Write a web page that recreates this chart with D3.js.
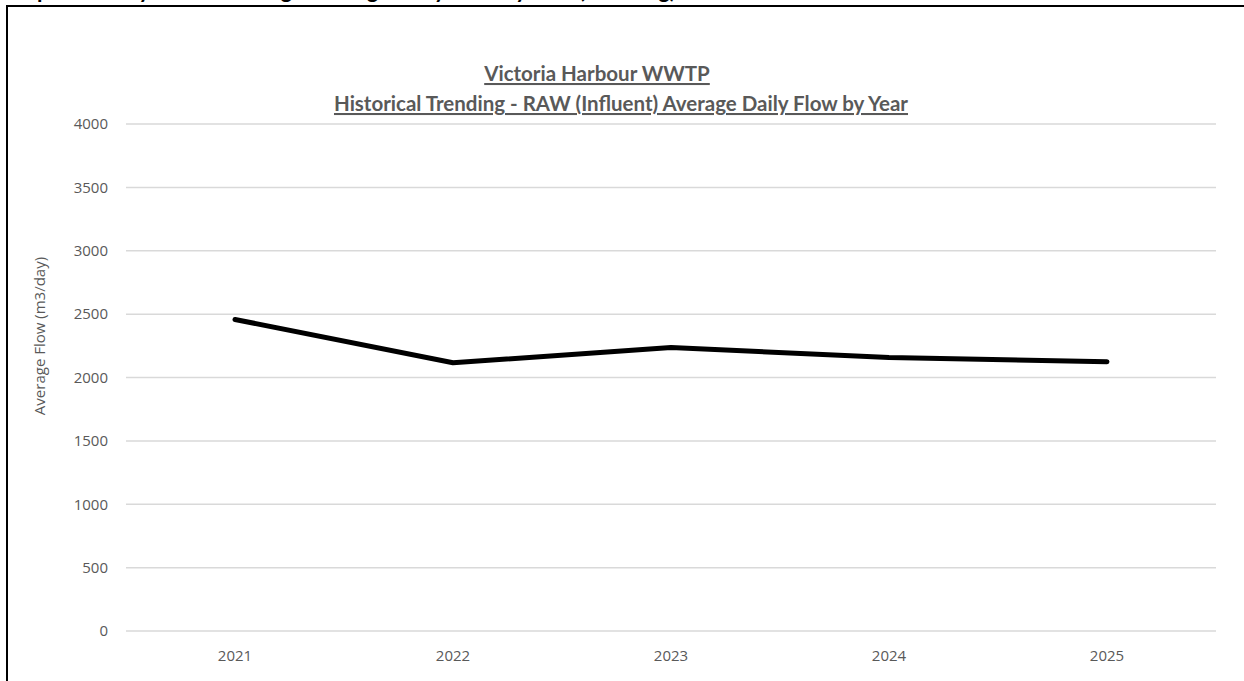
<!DOCTYPE html>
<meta charset="utf-8">
<style>
body { margin: 0; background: #fff; }
text { font-family: "Open Sans", Lato, sans-serif; }
</style>
<body>
<script src="https://cdnjs.cloudflare.com/ajax/libs/d3/7.8.5/d3.min.js"></script>
<script>
var w = 1244, h = 681;

var years = ["2021", "2022", "2023", "2024", "2025"];
var avgFlow = [2458, 2116, 2237, 2158, 2124];
var yTicks = [0, 500, 1000, 1500, 2000, 2500, 3000, 3500, 4000];
var titleLines = ["Victoria Harbour WWTP", "Historical Trending - RAW (Influent) Average Daily Flow by Year"];

var plotLeft = 126, plotRight = 1216, plotTop = 124, plotBottom = 631;

var svg = d3.select("body").append("svg")
	.attr("width", w)
	.attr("height", h);

// heading of the page above the chart, clipped by the picture edge
svg.append("text")
	.attr("x", 2)
	.attr("y", -2)
	.style("font-family", "Lato, sans-serif")
	.style("font-weight", "bold")
	.style("font-size", "22px")
	.attr("fill", "#000")
	.text("Graph 1: Yearly Flow Trending - Average Daily Flow by Year (Trending)");

// chart frame
svg.append("path")
	.attr("d", "M7," + h + "V6H" + w)
	.attr("fill", "none")
	.attr("stroke", "#000")
	.attr("stroke-width", 2);

var x = d3.scaleBand().domain(years).range([plotLeft, plotRight]);
var y = d3.scaleLinear().domain([0, 4000]).range([plotBottom, plotTop]);

// gridlines
svg.append("g")
	.selectAll("line")
	.data(yTicks)
	.enter().append("line")
	.attr("x1", plotLeft).attr("x2", plotRight)
	.attr("y1", function(d) { return y(d); })
	.attr("y2", function(d) { return y(d); })
	.attr("stroke", "#d9d9d9")
	.attr("stroke-width", 1.5);

var yAxis = svg.append("g")
	.attr("transform", "translate(" + (plotLeft - 18) + ",0)")
	.call(d3.axisLeft(y).tickValues(yTicks).tickFormat(d3.format("d")).tickSize(0).tickPadding(0));
yAxis.select(".domain").remove();
yAxis.selectAll("text").attr("fill", "#595959").style("font-size", "15px");

var xAxis = svg.append("g")
	.attr("transform", "translate(0," + (plotBottom + 11) + ")")
	.call(d3.axisBottom(x).tickSize(0).tickPadding(8));
xAxis.select(".domain").remove();
xAxis.selectAll("text").attr("fill", "#595959").style("font-size", "15px");

svg.append("text")
	.attr("transform", "translate(45,336) rotate(-90)")
	.attr("text-anchor", "middle")
	.attr("fill", "#595959")
	.style("font-size", "15px")
	.text("Average Flow (m3/day)");

// title
var titleX = [597, 621];
svg.append("g").selectAll("text")
	.data(titleLines)
	.enter().append("text")
	.attr("x", function(d, i) { return titleX[i]; })
	.attr("y", function(d, i) { return 81 + i * 30; })
	.attr("text-anchor", "middle")
	.attr("fill", "#595959")
	.style("font-family", "Lato, sans-serif")
	.style("font-weight", "bold")
	.style("font-size", "20.5px")
	.style("text-decoration", "underline")
	.text(function(d) { return d; });

var line = d3.line()
	.x(function(d, i) { return x(years[i]) + x.bandwidth() / 2; })
	.y(function(d) { return y(d); });

svg.append("path")
	.datum(avgFlow)
	.attr("d", line)
	.attr("fill", "none")
	.attr("stroke", "#000")
	.attr("stroke-width", 5)
	.attr("stroke-linecap", "round")
	.attr("stroke-linejoin", "round");
</script>
</body>
